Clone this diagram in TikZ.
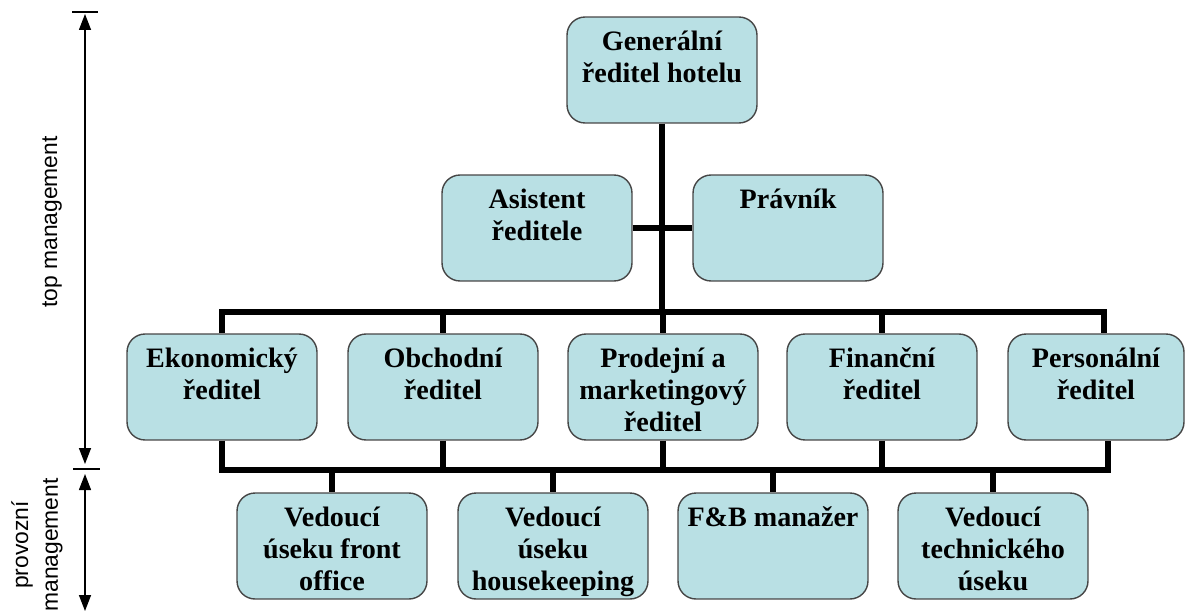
\documentclass[tikz,border=0pt]{standalone}
\usepackage{fontspec}
\setmainfont{Liberation Serif}
\setsansfont{Liberation Sans}
\newfontfamily\boxfont[BoldFont={Liberation Serif Bold}]{Liberation Serif}
\usetikzlibrary{arrows.meta}

\definecolor{boxfill}{RGB}{185,224,228}
\definecolor{boxline}{RGB}{70,70,70}

% text v boxu zarovnany nahoru
\newcommand{\boxtxt}[2][3.8cm]{\parbox[c][2.12cm][t]{#1}{\centering\rule{0pt}{18.8pt}#2}}

\begin{document}
\begin{tikzpicture}[
        x=0.02cm, y=-0.02cm,
        box/.style={
            rectangle, rounded corners=0.36cm, draw=boxline, line width=0.8pt,
            fill=boxfill, inner sep=0pt,
            font=\boxfont\fontsize{16}{18.2}\selectfont\bfseries
        },
        conn/.style={line width=3pt, black},
        dimarrow/.style={{Triangle[width=0.24cm,length=0.32cm]}-{Triangle[width=0.24cm,length=0.32cm]}, line width=0.8pt},
        side/.style={font=\sffamily\fontsize{13}{17}\selectfont, align=center}
    ]
        \useasboundingbox (0,0) rectangle (1186,612);

        % Vedeni hotelu
        \node[box] (gen) at (662,70) {\boxtxt{Generální\\ředitel hotelu}};
        \node[box] (asis) at (537,228) {\boxtxt{Asistent\\ředitele}};
        \node[box] (prav) at (788,228) {\boxtxt{Právník}};

        % Reditele useku
        \node[box] (eko) at (222,387) {\boxtxt{Ekonomický\\ředitel}};
        \node[box] (obch) at (443,387) {\boxtxt{Obchodní\\ředitel}};
        \node[box] (prod) at (663,387) {\boxtxt{Prodejní a\\marketingový\\ředitel}};
        \node[box] (fin) at (882,387) {\boxtxt{Finanční\\ředitel}};
        \node[box] (pers) at (1096,387) {\boxtxt[3.52cm]{Personální\\ředitel}};

        % Provozni management
        \node[box] (front) at (332,546) {\boxtxt{Vedoucí\\úseku front\\office}};
        \node[box] (house) at (553,546) {\boxtxt{Vedoucí\\úseku\\housekeeping}};
        \node[box] (fb) at (773,546) {\boxtxt{F\&B manažer}};
        \node[box] (tech) at (993,546) {\boxtxt{Vedoucí\\technického\\úseku}};

        % Sbernice
        \coordinate (busR) at (1104,312);
        \coordinate (bus2R) at (1108,470);

        \draw[conn] (gen.south) -- (gen.south |- busR);
        \draw[conn] (asis.east) -- (prav.west);

        \draw[conn] (eko.north) |- (busR) -- (busR |- pers.north);
        \foreach \n in {obch,prod,fin}
            \draw[conn] (\n.north |- busR) -- (\n.north);

        \draw[conn] (eko.south) |- (bus2R) -- (bus2R |- pers.south);
        \foreach \n in {obch,prod,fin}
            \draw[conn] (\n.south) -- (\n.south |- bus2R);
        \foreach \n in {front,house,fb,tech}
            \draw[conn] (\n.north |- bus2R) -- (\n.north);

        % Osa vlevo
        \coordinate (topA) at (85,14);
        \coordinate (midA) at (85,464);
        \coordinate (midB) at (85,474);
        \coordinate (botA) at (85,611);
        \draw[line width=0.8pt] (72,12) -- (98,12);
        \draw[line width=0.8pt] (73,469) -- (100,469);
        \draw[dimarrow] (topA) -- (midA);
        \draw[dimarrow] (midB) -- (botA);

        \node[side, rotate=90] (topm) at (52,222) {top management};
        \node[side, rotate=90] (provm) at (37,545) {provozní\\management};

    \end{tikzpicture}
\end{document}
